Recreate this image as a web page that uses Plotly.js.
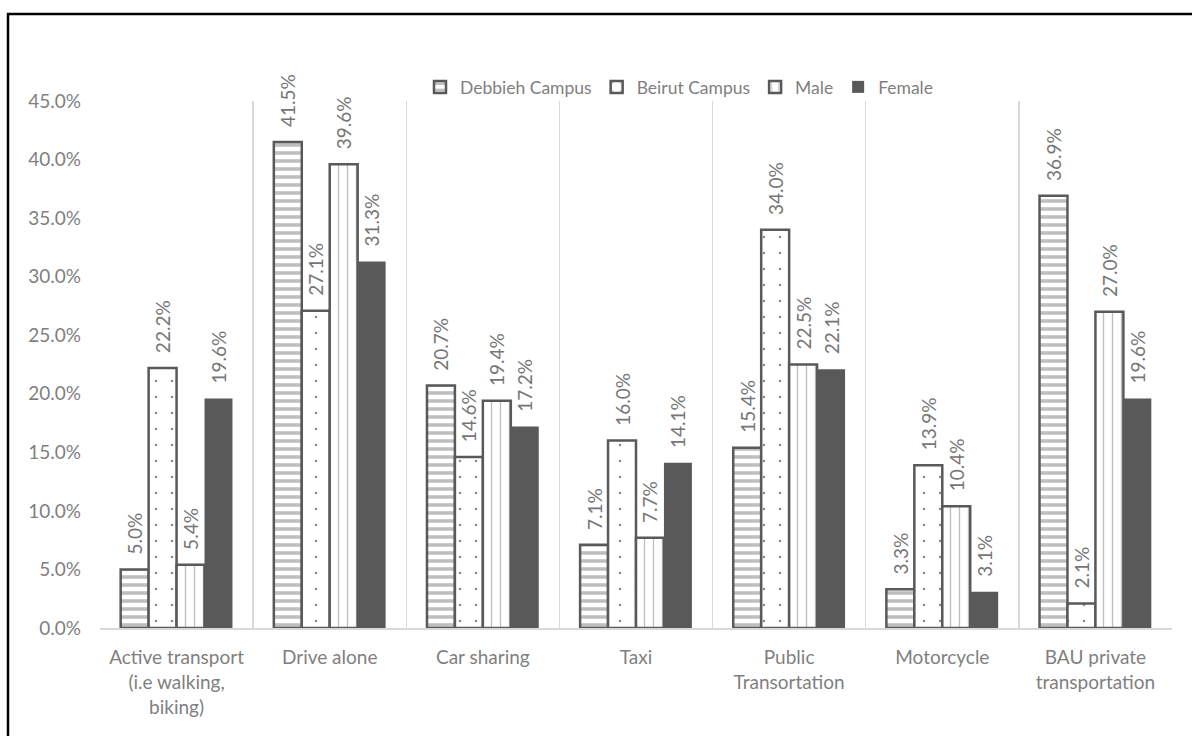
<!DOCTYPE html>
<html>
<head>
<meta charset="utf-8">
<script src="https://cdn.plot.ly/plotly-3.0.1.min.js"></script>
<style>html,body{margin:0;padding:0;background:#fff;}#chart{width:1192px;height:736px;}</style>
</head>
<body>
<div id="chart"></div>
<script>
const categories = [
  "Active transport<br>(i.e walking,<br>biking)",
  "Drive alone",
  "Car sharing",
  "Taxi",
  "Public<br>Transortation",
  "Motorcycle",
  "BAU private<br>transportation"
];
const seriesNames = ["Debbieh Campus", "Beirut Campus", "Male", "Female"];
const debbieh = [5.0, 41.5, 20.7, 7.1, 15.4, 3.3, 36.9];
const beirut  = [22.2, 27.1, 14.6, 16.0, 34.0, 13.9, 2.1];
const male    = [5.4, 39.6, 19.4, 7.7, 22.5, 10.4, 27.0];
const female  = [19.6, 31.3, 17.2, 14.1, 22.1, 3.1, 19.6];
const yTicks  = [0, 5, 10, 15, 20, 25, 30, 35, 40, 45];

const FONT = "Lato, 'Open Sans', sans-serif";
const DARK = "#595959";
const FS = 19;

const patterns = [
  {shape: "-", fgcolor: "#bfbfbf", bgcolor: "#ffffff", size: 8, solidity: 0.45, fillmode: "replace"},
  {shape: ".", fgcolor: "#8c8c8c", bgcolor: "#ffffff", size: 16, solidity: 0.02, fillmode: "replace"},
  {shape: "|", fgcolor: "#bfbfbf", bgcolor: "#ffffff", size: 9, solidity: 0.15, fillmode: "replace"},
  null
];
const allData = [debbieh, beirut, male, female];

const traces = allData.map((vals, i) => {
  const marker = {
    color: i === 3 ? DARK : "#ffffff",
    line: {color: DARK, width: i === 3 ? 0 : 2.5}
  };
  if (patterns[i]) marker.pattern = patterns[i];
  return {
    type: "bar",
    name: seriesNames[i],
    x: categories,
    y: vals.map(v => v / 100),
    text: vals.map(v => "\u2002\u2009" + v.toFixed(1) + "%"),
    textposition: "outside",
    textangle: -90,
    constraintext: "none",
    cliponaxis: false,
    textfont: {family: FONT, size: FS, color: "#767676"},
    marker: marker,
    hoverinfo: "skip"
  };
});

const l = 100, r = 20, t = 101, b = 108;
const pw = 1192 - l - r, ph = 736 - t - b;
const px = v => (v - l) / pw;
const py = v => (736 - b - v) / ph;

const layout = {
  width: 1192, height: 736,
  margin: {l: l, r: r, t: t, b: b, pad: 0},
  paper_bgcolor: "#ffffff",
  plot_bgcolor: "#ffffff",
  barmode: "group",
  bargap: 0.27,
  bargroupgap: 0,
  font: {family: FONT, color: "#7f7f7f"},
  showlegend: true,
  legend: {
    orientation: "h",
    x: px(679), xanchor: "center",
    y: py(87), yanchor: "middle",
    font: {family: FONT, size: 17.5, color: "#7f7f7f"},
    itemwidth: 30,
    traceorder: "normal",
    bgcolor: "rgba(0,0,0,0)"
  },
  xaxis: {
    type: "category",
    tickson: "boundaries",
    showgrid: true,
    gridcolor: "#d9d9d9",
    gridwidth: 1.5,
    ticks: "",
    showline: true,
    linecolor: "#d9d9d9",
    linewidth: 1.5,
    automargin: false,
    ticklabelstandoff: 12,
    tickfont: {family: FONT, size: FS, color: "#7f7f7f"},
    fixedrange: true
  },
  yaxis: {
    range: [0, 0.45],
    tickvals: yTicks.map(v => v / 100),
    ticktext: yTicks.map(v => v.toFixed(1) + "%"),
    showgrid: false,
    zeroline: false,
    showline: false,
    ticks: "",
    automargin: false,
    ticklabelstandoff: 18,
    tickfont: {family: FONT, size: FS, color: "#7f7f7f"},
    fixedrange: true
  },
  shapes: [{
    type: "rect", xref: "paper", yref: "paper",
    x0: px(8), x1: px(1210), y0: py(760), y1: py(14),
    line: {color: "#000000", width: 2.5},
    fillcolor: "rgba(0,0,0,0)"
  }]
};

Plotly.newPlot("chart", traces, layout, {displayModeBar: false, staticPlot: true});
</script>
</body>
</html>
